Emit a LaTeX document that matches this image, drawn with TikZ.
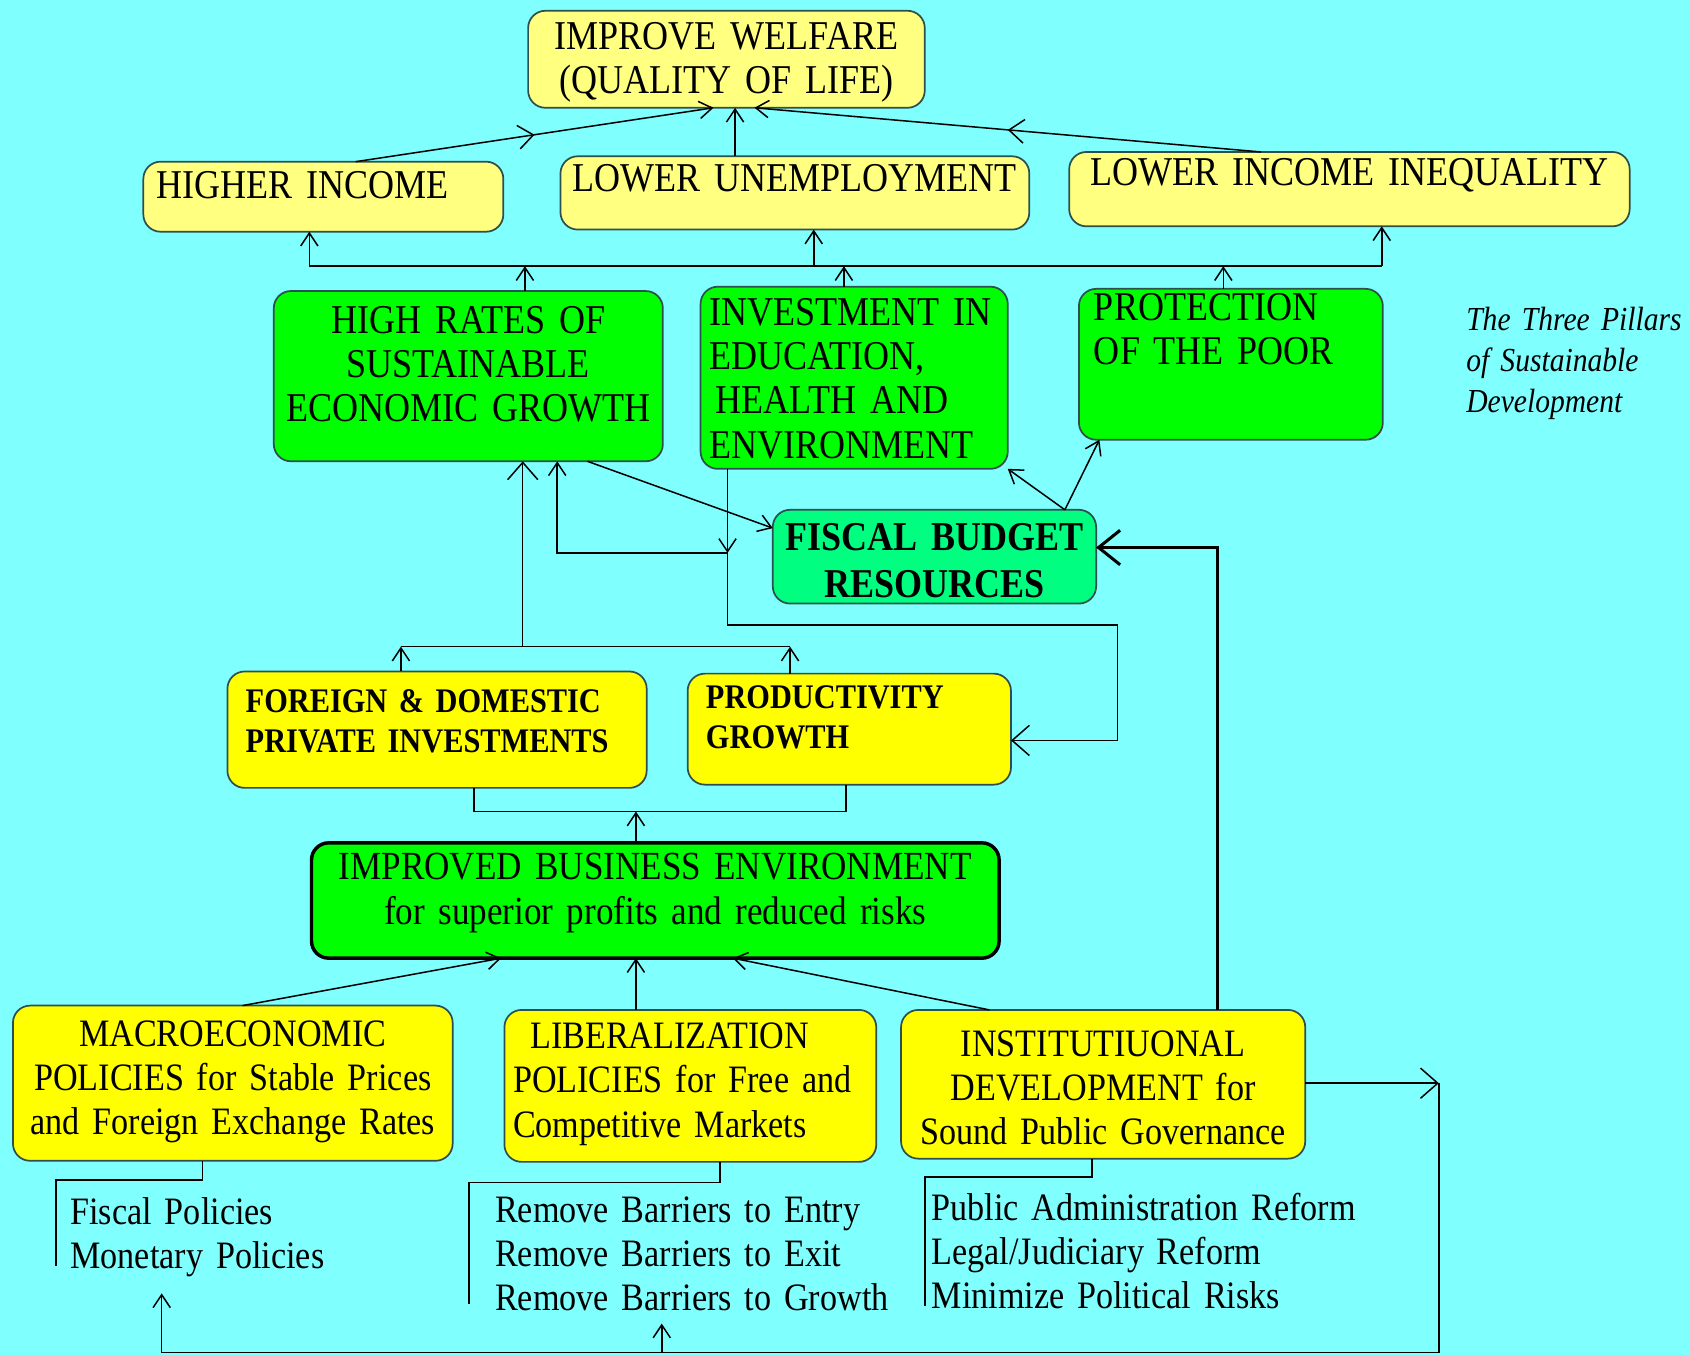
\documentclass[tikz,border=0pt]{standalone}
\usepackage{fontspec}
\setmainfont{Liberation Serif}[FakeStretch=0.88]
\usepackage{tikz}
\usetikzlibrary{arrows.meta}
\usetikzlibrary{calc}
\usetikzlibrary{decorations.markings}

\definecolor{bgcyan}{HTML}{80FFFF}
\definecolor{paleyel}{HTML}{FFFF80}
\definecolor{fullyel}{HTML}{FFFF00}
\definecolor{pillgreen}{HTML}{00FF00}
\definecolor{budgetgreen}{HTML}{00FF80}
\definecolor{edge}{HTML}{2F4F4F}

\hyphenpenalty=10000
\exhyphenpenalty=10000

\begin{document}
\begin{tikzpicture}[x=0.5pt, y=-0.5pt,
        box/.style={rectangle, rounded corners=8pt, draw=edge, line width=0.8pt, anchor=north west,
                    inner ysep=0pt, outer sep=0pt, font=\fontsize{19}{20.5}\selectfont},
        pale/.style={box, fill=paleyel},
        yel/.style={box, fill=fullyel, font=\fontsize{18}{20.5}\selectfont},
        pillar/.style={box, fill=pillgreen},
        budget/.style={box, fill=budgetgreen, font=\bfseries\fontsize{19}{21.5}\selectfont},
        mid/.style={yel, font=\bfseries\fontsize{16}{18.5}\selectfont},
        listtext/.style={anchor=base west, inner sep=0pt, text width=230pt, align=left,
                    font=\fontsize{18}{20.5}\selectfont},
        line/.style={draw=black, line width=0.7pt},
        arr/.style={line, -{Straight Barb[length=6pt,width=8pt]}},
        bigarr/.style={line, -{Straight Barb[length=8pt,width=14pt]}},
        thickarr/.style={draw=black, line width=1.4pt, -{Straight Barb[length=10pt,width=16pt]}},
        mid arrow/.style={postaction={decorate}, decoration={markings,
                    mark=at position 0.5 with {\arrow{Straight Barb[length=7pt,width=11pt]}}}}
      ]
        \fill[bgcyan] (0,0) rectangle (1568,1257);
        \useasboundingbox (0,0) rectangle (1568,1257);

        \node[pale]   (welfare)  at (490,10)   [inner xsep=6pt, text width=172pt, text height=18pt, text depth=27pt, align=center]
              {IMPROVE WELFARE\\(QUALITY OF LIFE)};
        \node[pale]   (hinc)     at (133,150)  [inner xsep=6pt, text width=155pt, text height=17pt, text depth=15.5pt, align=left]
              {HIGHER INCOME};
        \node[pale]   (lunemp)   at (520,145)  [inner xsep=4pt, text width=209.5pt, text height=16.5pt, text depth=17.5pt, align=center]
              {LOWER UNEMPLOYMENT};
        \node[pale]   (linq)     at (992,141)  [inner xsep=6pt, text width=248pt, text height=15.5pt, text depth=19pt, align=center]
              {LOWER INCOME INEQUALITY};

        \node[pillar] (hrates)   at (254,270)  [inner xsep=4pt, text width=172.5pt, text height=19.5pt, text depth=59.5pt, align=center]
              {HIGH RATES OF\\SUSTAINABLE\\ECONOMIC GROWTH};
        \node[pillar] (invest)   at (650,266)  [inner xsep=4pt, text width=134.5pt, text height=18pt, text depth=66.5pt, align=left]
              {INVESTMENT IN\\EDUCATION,\\\hspace*{3pt}HEALTH AND\\ENVIRONMENT};
        \node[pillar] (prot)     at (1001,268) [inner xsep=7pt, text width=127pt, text height=14.5pt, text depth=55.5pt, align=left]
              {PROTECTION\\OF THE POOR};
        \node[anchor=base west, inner sep=0pt, text width=110pt, align=left,
              font=\itshape\fontsize{15.6}{19}\selectfont] (pillars) at (1360,307)
              {The Three Pillars\\of Sustainable\\Development};

        \node[budget] (fiscal)   at (717,473)  [inner xsep=4pt, text width=142pt, text height=19pt, text depth=24.5pt, align=center]
              {FISCAL BUDGET\\RESOURCES};

        \node[mid]    (foreign)  at (211,623)  [inner xsep=8.5pt, text width=177.5pt, text height=19pt, text depth=35pt, align=left]
              {FOREIGN \& DOMESTIC\\PRIVATE INVESTMENTS};
        \node[mid]    (prod)     at (638,625)  [inner xsep=8.5pt, text width=133pt, text height=16pt, text depth=35.5pt, align=left]
              {PRODUCTIVITY\\GROWTH};

        \node[pillar] (business) at (289,782)  [draw=black, line width=1.6pt, inner xsep=6pt, text width=307pt,
              text height=17pt, text depth=36.5pt, align=center, font=\fontsize{18.5}{21}\selectfont]
              {IMPROVED BUSINESS ENVIRONMENT\\for superior profits and reduced risks};

        \node[yel]    (macro)    at (12,933)   [inner xsep=4pt, text width=196pt, text height=19pt, text depth=53pt, align=center]
              {MACROECONOMIC\\POLICIES for Stable Prices\\and Foreign Exchange Rates};
        \node[yel]    (liberal)  at (468,937)  [inner xsep=4pt, text width=164.5pt, text height=18pt, text depth=52.5pt, align=left]
              {\hspace*{8pt}LIBERALIZATION\\POLICIES for Free and\\Competitive Markets};
        \node[yel]    (instit)   at (836,937)  [inner xsep=4pt, text width=179.5pt, text height=21.5pt, text depth=47.5pt, align=center]
              {INSTITUTIUONAL\\DEVELOPMENT for\\Sound Public Governance};

        \node[listtext] (fpol)   at (65,1136)  {Fiscal Policies\\Monetary Policies};
        \node[listtext] (rbar)   at (459,1134) {Remove Barriers to Entry\\Remove Barriers to Exit\\Remove Barriers to Growth};
        \node[listtext] (padm)   at (864,1132) {Public Administration Reform\\Legal/Judiciary Reform\\Minimize Political Risks};

        % top level
        \draw[arr, mid arrow] ($(hinc.north west)+(197,0)$) -- ($(welfare.south west)+(172,0)$);
        \draw[arr] (lunemp.north west) ++(162,0) coordinate (u1) -- (u1 |- welfare.south);
        \draw[arr, mid arrow] ($(linq.north west)+(178,0)$) -- ($(welfare.south west)+(210,0)$);

        \coordinate (b1L) at (287,247);
        \coordinate (b1U) at (755,247);
        \coordinate (b1R) at (1282,247);
        \coordinate (b1a) at (487,247);
        \coordinate (b1b) at (783,247);
        \coordinate (b1c) at (1135,247);
        \draw[line] (b1L) -- (b1R);
        \draw[arr] (b1L) -- (b1L |- hinc.south);
        \draw[arr] (b1U) -- (b1U |- lunemp.south);
        \draw[arr] (b1R) -- (b1R |- linq.south);
        \draw[arr] (hrates.north -| b1a) -- (b1a);
        \draw[arr] (invest.north -| b1b) -- (b1b);
        \draw[arr] (prot.north -| b1c) -- (b1c);

        % budget
        \draw[arr] ($(hrates.south east)+(-70,0)$) -- ($(fiscal.north west)+(0,17)$);
        \draw[arr] ($(fiscal.north east)+(-29,0)$) coordinate (fT) -- (invest.south east);
        \draw[arr] (fT) -- ($(prot.south west)+(19,0)$);

        \coordinate (j0) at (517,513);
        \coordinate (j1) at (675,513);
        \coordinate (j2) at (1037,580);
        \coordinate (j3) at (1037,687);
        \draw[arr] (invest.south -| j1) -- (j1);
        \draw[arr] (j1) -- (j0) -- (hrates.south -| j0);
        \draw[bigarr] (j1) |- (j2) -- (j3) -- (prod.east |- j3);

        \coordinate (k) at (1130,508);
        \draw[thickarr] (instit.north -| k) -- (k) -- (fiscal.east |- k);

        % middle
        \coordinate (b2L) at (372,600);
        \coordinate (b2M) at (485,600);
        \coordinate (b2R) at (733,600);
        \draw[line] (b2L) -- (b2R);
        \draw[arr] (foreign.north -| b2L) -- (b2L);
        \draw[arr] (prod.north -| b2R) -- (b2R);
        \draw[bigarr] (b2M) -- (hrates.south -| b2M);

        \coordinate (b3L) at (440,753);
        \coordinate (b3M) at (590,753);
        \coordinate (b3R) at (785,753);
        \draw[line] (foreign.south -| b3L) -- (b3L) -- (b3R) -- (prod.south -| b3R);
        \draw[arr] (business.north -| b3M) -- (b3M);

        % policies
        \draw[arr] ($(macro.north west)+(213,0)$) -- ($(business.south west)+(176,0)$);
        \draw[arr] (liberal.north -| b3M) -- (business.south -| b3M);
        \draw[arr] ($(instit.north west)+(82,0)$) -- ($(business.south west)+(391,0)$);

        \draw[line] ($(macro.south west)+(176,0)$) -- ++(0,18) -- ++(-136,0) -- ++(0,80);
        \draw[line] ($(liberal.south west)+(200,0)$) -- ++(0,19) -- ++(-233,0) -- ++(0,113);
        \draw[line] ($(instit.south west)+(177,0)$) -- ++(0,17) -- ++(-155,0) -- ++(0,120);

        % feedback
        \coordinate (fbR) at (1335,1005);
        \coordinate (fbB) at (150,1255);
        \coordinate (fbE) at (150,1200);
        \coordinate (fbM) at (614,1255);
        \draw[bigarr] (instit.east |- fbR) -- (fbR);
        \draw[arr] (fbR) |- (fbB) -- (fbE);
        \draw[arr] (fbM) -- ++(0,-27);
      \end{tikzpicture}
\end{document}
